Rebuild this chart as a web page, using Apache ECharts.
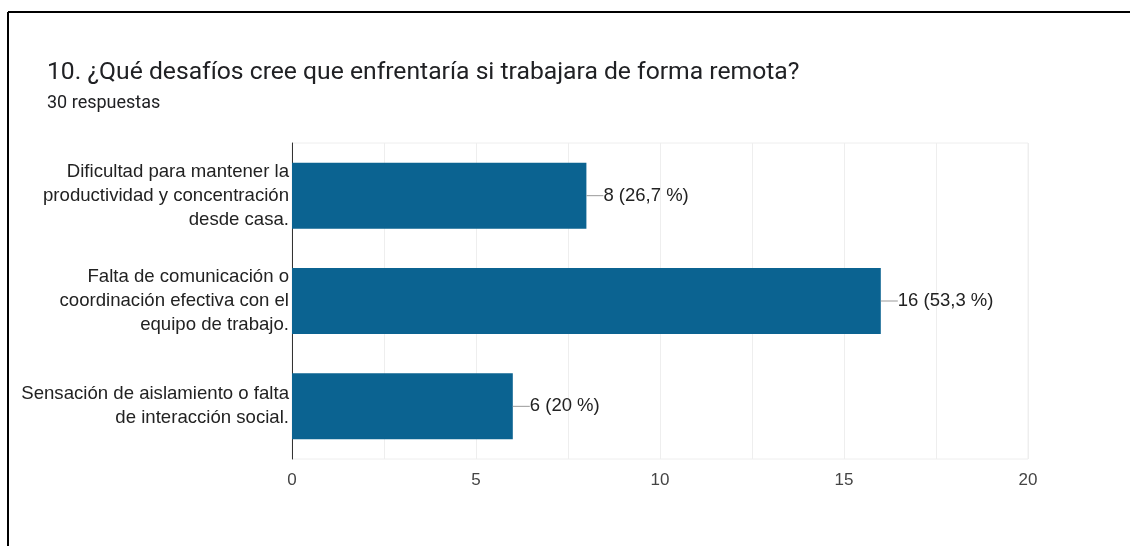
<!DOCTYPE html>
<html lang="es">
<head>
    <meta charset="UTF-8">
    <title>Desafíos trabajo remoto</title>
    <style>
        body { margin: 0; background: #fff; }
    </style>
</head>
<body>
    <div id="main" style="width:1130px;height:546px;"></div>
    <script src="https://cdn.jsdelivr.net/npm/echarts@6/dist/echarts.min.js"></script>
    <script>
        var categories = [
            'Dificultad para mantener la\nproductividad y concentración\ndesde casa.',
            'Falta de comunicación o\ncoordinación efectiva con el\nequipo de trabajo.',
            'Sensación de aislamiento o falta\nde interacción social.'
        ];
        var counts = [8, 16, 6];
        var percents = ['26,7', '53,3', '20'];
        var tickLabels = [0, 5, 10, 15, 20];

        var myChart = echarts.init(document.getElementById('main'));

        var option = {
            animation: false,
            title: [{
                text: '10. ¿Qué desafíos cree que enfrentaría si trabajara de forma remota?',
                left: 42,
                top: 55,
                textStyle: { fontFamily: 'Roboto', fontSize: 24.7, fontWeight: 'normal', color: '#202124' }
            }, {
                text: '30 respuestas',
                left: 42,
                top: 89,
                textStyle: { fontFamily: 'Roboto', fontSize: 18, fontWeight: 'normal', color: '#202124' }
            }],
            graphic: [
                { type: 'line', shape: { x1: 8, y1: 12, x2: 1130, y2: 12 }, style: { stroke: '#000', lineWidth: 2 } },
                { type: 'line', shape: { x1: 8, y1: 12, x2: 8, y2: 546 }, style: { stroke: '#000', lineWidth: 2 } }
            ],
            grid: {
                left: 292,
                right: 102,
                top: 143,
                bottom: 87,
                show: true,
                borderColor: '#eeeeee',
                borderWidth: 1
            },
            xAxis: {
                type: 'value',
                min: 0,
                max: 20,
                interval: 2.5,
                axisLine: { show: false },
                axisTick: { show: false },
                splitLine: { lineStyle: { color: '#eeeeee' } },
                axisLabel: {
                    margin: 13,
                    fontFamily: 'Liberation Sans',
                    fontSize: 17,
                    color: '#444',
                    formatter: function (v) {
                        return tickLabels.indexOf(v) >= 0 ? String(v) : '';
                    }
                }
            },
            yAxis: {
                type: 'category',
                inverse: true,
                data: categories,
                axisLine: { lineStyle: { color: '#333', width: 1 } },
                axisTick: { show: false },
                axisLabel: {
                    margin: 3,
                    fontFamily: 'Liberation Sans',
                    fontSize: 18.6,
                    lineHeight: 24,
                    color: '#222',
                    align: 'right'
                }
            },
            series: [{
                type: 'bar',
                data: counts,
                barWidth: 66,
                itemStyle: { color: '#0b6391' },
                label: {
                    show: true,
                    position: 'right',
                    distance: 0,
                    formatter: function (p) {
                        return '{l|}{v|' + counts[p.dataIndex] + ' (' + percents[p.dataIndex] + ' %)}';
                    },
                    rich: {
                        l: { width: 17, height: 1, backgroundColor: '#999999' },
                        v: { fontFamily: 'Liberation Sans', fontSize: 18.5, color: '#222' }
                    }
                }
            }]
        };
        myChart.setOption(option);
    </script>
</body>
</html>
